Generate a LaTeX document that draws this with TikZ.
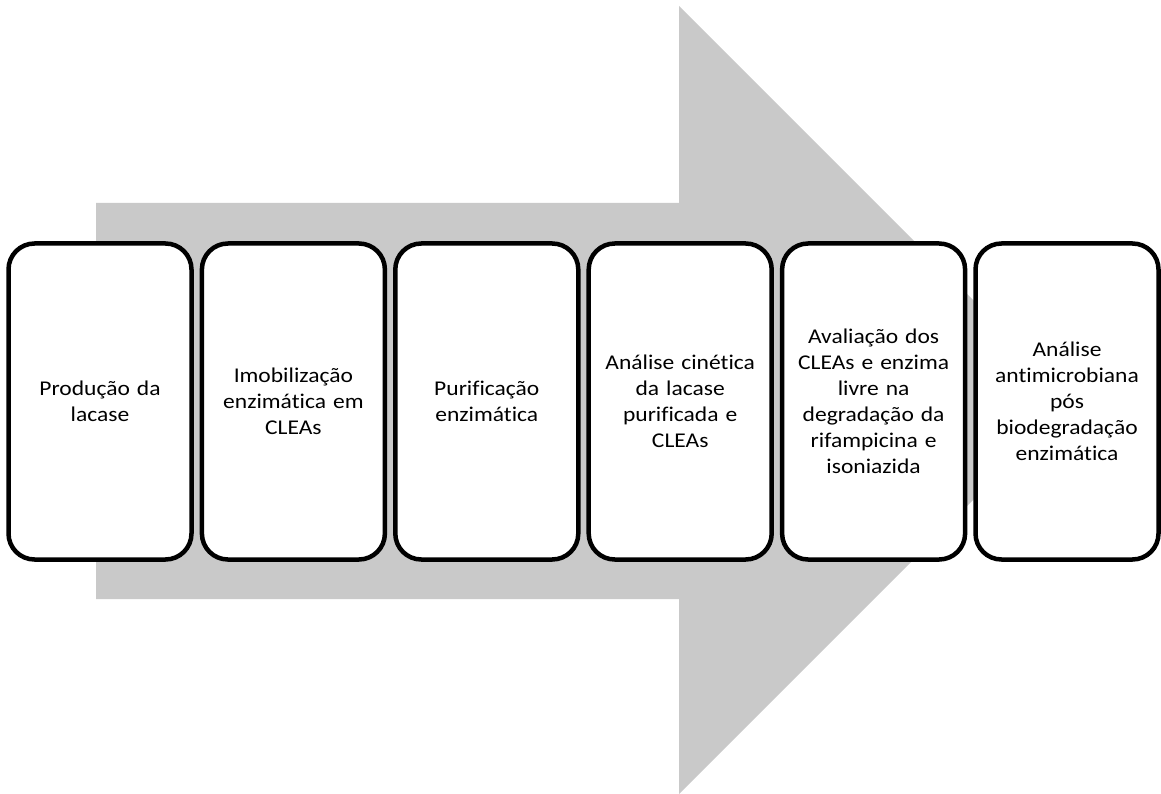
\documentclass[tikz,border=0pt]{standalone}
\usepackage{fontspec}
\setmainfont{Carlito}
\newfontfamily\boxfont[FakeStretch=1.12,Ligatures={NoCommon}]{Carlito}
\definecolor{arrowgray}{RGB}{201,201,201}
\begin{document}
\begin{tikzpicture}[x=1pt,y=-1pt,
  stepbox/.style={draw=black, line width=4.5pt, fill=white, rounded corners=26pt,
    minimum width=183pt, minimum height=316pt, text width=178pt, align=center,
    inner sep=0pt, font=\boxfont\fontsize{21}{26}\selectfont}]
\useasboundingbox (0,0) rectangle (1161,794);
% big arrow
\fill[arrowgray] (96,203) -- (679,203) -- (679,6) -- (1073,400) -- (679,794) -- (679,599) -- (96,599) -- cycle;
% steps
\node[stepbox] (s1) at (100,401.5) {Produção da\\lacase};
\node[stepbox] (s2) at (293.4,401.5) {Imobilização\\enzimática em\\CLEAs};
\node[stepbox] (s3) at (486.8,401.5) {Purificação\\enzimática};
\node[stepbox] (s4) at (680.2,401.5) {Análise cinética\\da lacase\\purificada e\\CLEAs};
\node[stepbox] (s5) at (873.6,401.5) {Avaliação dos\\CLEAs e enzima\\livre na\\degradação da\\rifampicina e\\isoniazida};
\node[stepbox] (s6) at (1067,401.5) {Análise\\antimicrobiana\\pós\\biodegradação\\enzimática};
\end{tikzpicture}
\end{document}
